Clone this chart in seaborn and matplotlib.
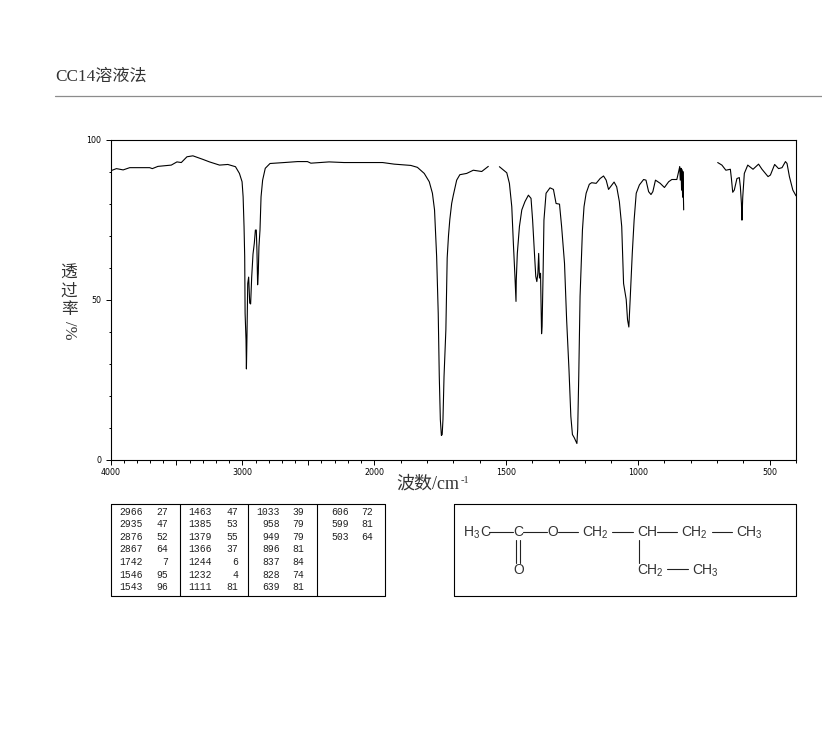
import numpy as np
import matplotlib
matplotlib.use("Agg")
import matplotlib.pyplot as plt
import seaborn as sns

# IR spectrum, three pieces because the trace has two gaps
wn_a = [4000, 3955, 3904, 3854, 3703, 3683, 3640, 3539, 3496, 3463, 3420, 3375, 3300, 3249, 3173, 3110,
        3052, 3022, 3002, 2994, 2987, 2982, 2979, 2972, 2969, 2965, 2959, 2952, 2944, 2937, 2929, 2919,
        2909, 2901, 2894, 2889, 2884, 2879, 2874, 2866, 2858, 2846, 2826, 2790, 2682, 2581, 2506, 2480,
        2342, 2229, 2065, 1968, 1924, 1861, 1836, 1810, 1791, 1779, 1771, 1763, 1757, 1753, 1749, 1745,
        1742, 1739, 1735, 1728, 1723, 1718, 1713, 1706, 1700, 1687, 1675, 1649, 1624, 1592, 1567]
t_a = [90.2, 90.9, 90.5, 91.2, 91.2, 90.9, 91.6, 92, 93, 92.8, 94.6, 94.9, 93.8, 93, 92, 92.2,
       91.5, 89.4, 86.8, 82.1, 72.8, 63.4, 45.7, 37.4, 28.3, 38, 55, 57, 48.9, 48.6, 57, 64.2,
       67.6, 71.7, 71.7, 65, 54.6, 58.2, 66.5, 71.7, 82.1, 87.3, 91, 92.5, 92.8, 93.1, 93.1, 92.6,
       93, 92.8, 92.8, 92.8, 92.3, 91.9, 91.3, 89.4, 86.8, 83.2, 78, 63.4, 45.7, 26, 12.5, 7.5,
       7.8, 12.5, 25.9, 40.5, 63, 70, 75, 80, 82.5, 87.3, 89, 89.4, 90.4, 90, 91.6]

wn_b = [1525, 1497, 1487, 1478, 1472, 1466, 1462, 1461, 1457, 1449, 1440, 1428, 1415, 1405, 1399, 1392,
        1387, 1383, 1379, 1376, 1373, 1369, 1365, 1363, 1359, 1356, 1348, 1333, 1320, 1310, 1297, 1289,
        1278, 1270, 1261, 1254, 1248, 1241, 1231, 1228, 1224, 1219, 1210, 1204, 1196, 1184, 1175, 1158,
        1143, 1130, 1120, 1111, 1102, 1090, 1080, 1070, 1061, 1054, 1044, 1039, 1034, 1029, 1021, 1014,
        1006, 994, 978, 969, 959, 950, 943, 933, 915, 899, 883, 871, 852, 844, 841, 839, 836, 834, 833,
        830, 829, 826]
t_b = [91.5, 89.6, 86.3, 79, 67.6, 57.2, 49.4, 56, 64.4, 72.8, 78, 80.6, 82.6, 81.6, 74.8, 64.4,
       57.2, 55.6, 58.2, 64.4, 56.7, 58.2, 39.3, 41.6, 59.3, 74.8, 83.2, 84.9, 84.4, 80, 79.8, 72.8,
       61.3, 43.7, 28, 13.5, 7.8, 6.8, 5, 9.4, 26, 51, 71.7, 79, 83.2, 86, 86.5, 86.3,
       87.8, 88.6, 87.3, 84.4, 85.4, 86.7, 85.2, 80.6, 72.8, 55, 50, 43.7, 41.4, 50, 64.4, 74.8,
       83.2, 85.8, 87.5, 87.3, 83.7, 82.8, 83.7, 87.3, 86.3, 85, 86.8, 87.5, 87.5, 90.4, 91.5, 87.3, 91, 84.2, 90.6,
       82, 90, 78]

wn_c = [697, 681, 666, 649, 645, 640, 634, 624, 615, 611, 607, 605, 602, 596, 583, 563, 542, 529, 506,
        497, 481, 466, 453, 440, 434, 425, 412, 400]
t_c = [92.8, 92, 90.4, 90.7, 87.8, 83.5, 84.2, 87.8, 88.1, 85.2, 80, 74.8, 82, 89.4, 92, 90.7, 92.3, 90.7, 88.4,
       88.9, 92.2, 90.9, 91.2, 93.1, 92.5, 88.4, 84.2, 82.4]

# peak table, one list per column
peak_wn = [[2966, 2935, 2876, 2867, 1742, 1546, 1543],
           [1463, 1385, 1379, 1366, 1244, 1232, 1111],
           [1033, 958, 949, 896, 837, 828, 639],
           [606, 599, 503]]
peak_t = [[27, 47, 52, 64, 7, 95, 96],
          [47, 53, 55, 37, 6, 4, 81],
          [39, 79, 79, 81, 84, 74, 81],
          [72, 81, 64]]

x_major = [4000, 3500, 3000, 2500, 2000, 1500, 1000, 500]
x_labels = ["4000", "", "3000", "", "2000", "1500", "1000", "500"]
x_minor = list(range(400, 4000, 100))
y_major = [0, 50, 100]
y_minor = list(range(0, 101, 10))

sns.set_style("ticks")
plt.rcParams["axes.edgecolor"] = "black"
plt.rcParams["xtick.color"] = "black"
plt.rcParams["ytick.color"] = "black"

W, H = 822, 737
fig = plt.figure(figsize=(W / 100, H / 100), dpi=100)
ax = fig.add_axes([110.5 / W, 1 - 459.5 / H, 685.5 / W, 320 / H])


# the wavenumber axis is twice as compressed above 2000
def fwd(v):
    return np.interp(v, [400, 2000, 4000], [0, 1600, 2600])


def inv(v):
    return np.interp(v, [0, 1600, 2600], [400, 2000, 4000])


ax.set_xscale("function", functions=(fwd, inv))
for wn, t in [(wn_a, t_a), (wn_b, t_b), (wn_c, t_c)]:
    sns.lineplot(x=wn, y=t, sort=False, estimator=None, color="black", linewidth=0.8, ax=ax)

ax.set_xlim(4000, 400)
ax.set_ylim(0, 100)
ax.set_xticks(x_major, x_labels, fontsize=5.7)
ax.set_xticks(x_minor, minor=True)
ax.set_yticks(y_major, [str(v) for v in y_major], fontsize=5.7)
ax.set_yticks(y_minor, minor=True)
ax.tick_params(which="major", length=3.5, width=0.7, pad=2.5)
ax.tick_params(which="minor", length=1.8, width=0.7)
ax.tick_params(axis="y", which="major", pad=3)
ax.set_xlabel("")
ax.set_ylabel("")
for s in ax.spines.values():
    s.set_visible(True)
    s.set_linewidth(0.8)

# overlay in pixel coordinates for the page furniture
pg = fig.add_axes([0, 0, 1, 1], facecolor="none")
pg.set_xlim(0, W)
pg.set_ylim(H, 0)
pg.axis("off")

cjk = ["Liberation Serif", "Noto Sans CJK SC"]
grey = "#333333"
pg.text(55, 77, "CC14溶液法", family=cjk, fontsize=12.3, color=grey, va="center")
pg.plot([55, 822], [96, 96], color="#8c8c8c", lw=0.9)

for ch, yy in zip(["透", "过", "率"], [274, 292, 310]):
    pg.text(69, yy, ch, family=cjk, fontsize=12, color=grey, ha="center", va="center")
pg.text(69, 330, "/%", family="Liberation Serif", fontsize=12, color=grey, rotation=-90,
        ha="center", va="center")

pg.text(396, 484, "波数/cm", family=cjk, fontsize=13, color=grey, va="center")
pg.text(461, 480, "-1", family="Liberation Serif", fontsize=7.5, color=grey, va="center")

# peak table
pg.plot([110.5, 384.5, 384.5, 110.5, 110.5], [503.5, 503.5, 595.5, 595.5, 503.5], color="black", lw=0.8)
for xd in [179.5, 247.5, 316.5]:
    pg.plot([xd, xd], [503.5, 595.5], color="black", lw=0.8)
col_wn = [143, 212, 280, 349]
col_t = [168, 238, 304, 373]
for c in range(4):
    for r, (a, b) in enumerate(zip(peak_wn[c], peak_t[c])):
        yy = 511.7 + r * 12.6
        pg.text(col_wn[c], yy, str(a), family="Liberation Mono", fontsize=7, color="#222222", ha="right", va="center")
        pg.text(col_t[c], yy, str(b), family="Liberation Mono", fontsize=7, color="#222222", ha="right", va="center")

# structure box
pg.plot([453.5, 795.5, 795.5, 453.5, 453.5], [503.5, 503.5, 595.5, 595.5, 503.5], color="black", lw=0.8)


def chem(x, y, pieces):
    for dx, s, small in pieces:
        if small:
            pg.text(x + dx, y + 3, s, family="Liberation Sans", fontsize=7, color=grey, va="center")
        else:
            pg.text(x + dx, y, s, family="Liberation Sans", fontsize=10, color=grey, va="center")


row1, row2 = 532.5, 570
chem(464, row1, [(0, "H", False), (10, "3", True), (16, "C", False)])
chem(513, row1, [(0, "C", False)])
chem(547, row1, [(0, "O", False)])
chem(582, row1, [(0, "CH", False), (20, "2", True)])
chem(637, row1, [(0, "CH", False)])
chem(681, row1, [(0, "CH", False), (20, "2", True)])
chem(736, row1, [(0, "CH", False), (20, "3", True)])
chem(513, row2, [(0, "O", False)])
chem(637, row2, [(0, "CH", False), (20, "2", True)])
chem(692, row2, [(0, "CH", False), (20, "3", True)])

for x0, x1, yy in [(489, 513, 532), (523, 547, 532), (558, 578, 532), (612, 633, 532),
                   (657, 677, 532), (712, 732, 532), (667, 688, 569)]:
    pg.plot([x0, x1], [yy, yy], color="#222222", lw=0.8)
for xx, y0, y1 in [(516, 540, 563), (519.5, 540, 563), (639, 540, 563)]:
    pg.plot([xx, xx], [y0, y1], color="#222222", lw=0.8)

fig.savefig("out.png", dpi=100)
